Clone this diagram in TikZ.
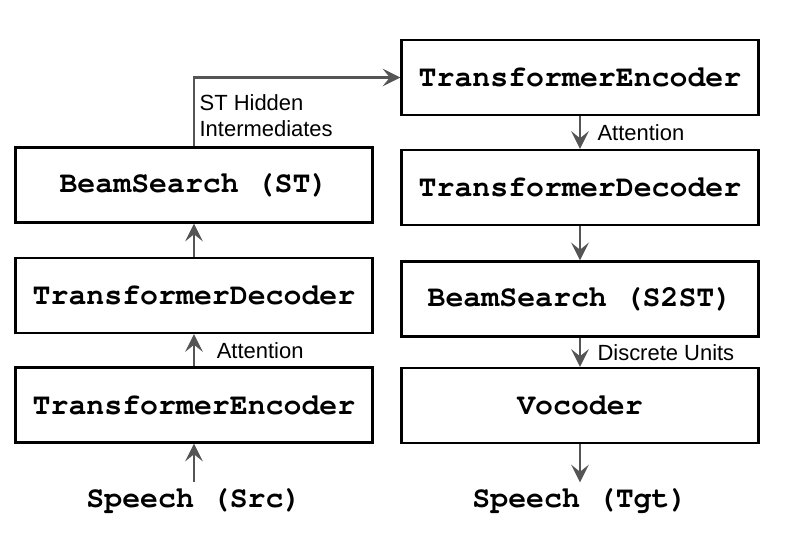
\documentclass[tikz,border=0pt]{standalone}
\usepackage[T1]{fontenc}
\usepackage{fontspec}
\setmainfont{Liberation Sans}
\newcommand{\codefont}{\fontencoding{T1}\fontfamily{pcr}\selectfont}
\usetikzlibrary{positioning, arrows.meta}
\definecolor{arrowgray}{RGB}{85, 85, 85}

\begin{document}
\begin{tikzpicture}[font=\fontsize{12.5}{15.3}\selectfont, >={Stealth[length=10pt, width=10pt, inset=4pt]},
  block/.style={draw=black, line width=1.4pt, minimum width=7.14cm, minimum height=1.5cm,
                font=\codefont\bfseries\fontsize{17}{20}\selectfont},
  io/.style={font=\codefont\bfseries\fontsize{17}{20}\selectfont},
  flow/.style={->, draw=arrowgray, line width=1.3pt}]
  \useasboundingbox (0,0) rectangle (15.78,10.64);
  % ST side
  \node[block] (encst) at (3.88, 2.54) {TransformerEncoder};
  \node[block] (decst) at (3.88, 4.73) {TransformerDecoder};
  \node[block] (beamst) at (3.88, 6.94) {BeamSearch (ST)};
  \node[io] (src) at (3.88, 0.64) {Speech (Src)};
  % S2ST side
  \node[block] (encs2st) at (11.60, 9.09) {TransformerEncoder};
  \node[block] (decs2st) at (11.60, 6.89) {TransformerDecoder};
  \node[block] (beams2st) at (11.60, 4.66) {BeamSearch (S2ST)};
  \node[block] (vocoder) at (11.60, 2.53) {Vocoder};
  \node[io] (tgt) at (11.60, 0.64) {Speech (Tgt)};
  % Arrows
  \draw[flow] (src) -- (encst);
  \draw[flow] (encst) -- node[right=9pt] (attst) {Attention} (decst);
  \draw[flow] (decst) -- (beamst);
  \draw[flow] (beamst.north) |- (encs2st.west);
  \node[anchor=south west, align=left, inner sep=3pt] (hidden) at ([xshift=0pt, yshift=2pt]beamst.north)
        {ST Hidden\\Intermediates};
  \draw[flow] (encs2st) -- node[right=6pt] (atts2st) {Attention} (decs2st);
  \draw[flow] (decs2st) -- (beams2st);
  \draw[flow] (beams2st) -- node[right=6pt] (units) {Discrete Units} (vocoder);
  \draw[flow] (vocoder) -- (tgt);
\end{tikzpicture}
\end{document}
